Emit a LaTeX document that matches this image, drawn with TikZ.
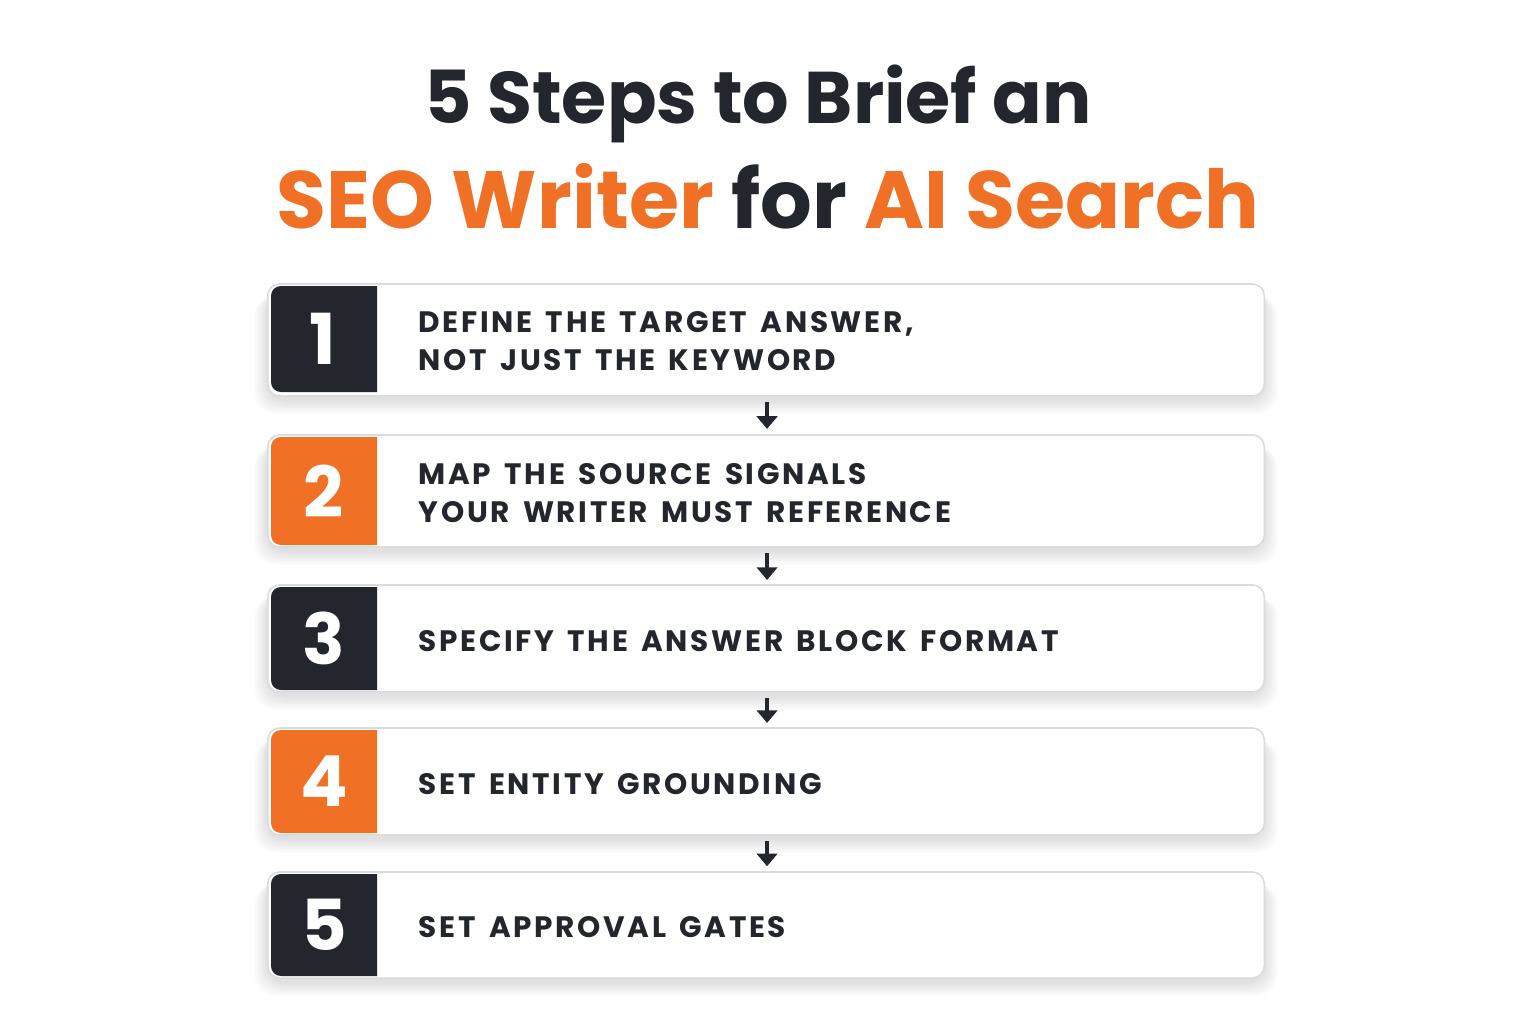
\documentclass[tikz,border=0pt]{standalone}
\usepackage{fontspec}
\setmainfont{Poppins}[BoldFont={Poppins Bold}]
\newfontfamily\stepfont{Poppins}[BoldFont={Poppins Bold},LetterSpace=9,WordSpace=1.5]
\usetikzlibrary{arrows.meta}
\definecolor{ink}{HTML}{24262D}
\definecolor{accent}{HTML}{F07026}
\definecolor{edge}{HTML}{DADBDE}
\tikzset{
  card/.style={draw=edge, line width=0.45pt, fill=white, rounded corners=3.4pt,
    minimum width=9.96cm, minimum height=#1, inner sep=0pt},
  steptext/.style={anchor=west, text=ink, font=\stepfont\bfseries\fontsize{8.4}{10.6}\selectfont, align=left, inner sep=0pt},
  numtext/.style={text=white, font=\bfseries\fontsize{20}{24}\selectfont, inner sep=0pt},
  arr/.style={draw=ink, line width=0.9pt, -{Triangle[width=5.8pt,length=3.6pt]}},
  shadowlayer/.style={fill=black, opacity=0.01, rounded corners=6pt}
}
\begin{document}
\begin{tikzpicture}[x=0.01cm, y=-0.01cm]
\useasboundingbox (0,0) rectangle (1536,1024);
\fill[white] (0,0) rectangle (1536,1024);

% title
\node[text=ink, font=\bfseries\fontsize{20.8}{26}\selectfont, inner sep=0pt] (t1) at (758,104) {5 Steps to Brief an};
\node[font=\bfseries\fontsize{23.1}{28}\selectfont, inner sep=0pt] (t2) at (768,196) {\textcolor{accent}{SEO Writer} \textcolor{ink}{for} \textcolor{accent}{AI Search}};

% shadows
\foreach \ya/\yb in {284/396, 435/547, 585/692, 728/835, 872/978}{
  \foreach \s in {2,4,...,20}{
    \fill[shadowlayer] (268-\s*0.7,\ya+6+\s*0.3) rectangle (1264+\s*0.7,\yb+4+\s*0.7);
  }
}

% cards
\node[card=1.12cm] (c1) at (766,340) {};
\node[card=1.12cm] (c2) at (766,491) {};
\node[card=1.07cm] (c3) at (766,638.5) {};
\node[card=1.07cm] (c4) at (766,781.5) {};
\node[card=1.06cm] (c5) at (766,925) {};

% badges
\fill[ink]    (377,286) [rounded corners=2.8pt] -- (271,286) -- (271,392) [sharp corners] -- (377,392) -- cycle;
\fill[accent] (377,437) [rounded corners=2.8pt] -- (271,437) -- (271,545) [sharp corners] -- (377,545) -- cycle;
\fill[ink]    (377,587) [rounded corners=2.8pt] -- (271,587) -- (271,690) [sharp corners] -- (377,690) -- cycle;
\fill[accent] (377,730) [rounded corners=2.8pt] -- (271,730) -- (271,833) [sharp corners] -- (377,833) -- cycle;
\fill[ink]    (377,874) [rounded corners=2.8pt] -- (271,874) -- (271,976) [sharp corners] -- (377,976) -- cycle;

% numbers
\node[numtext] (n1) at (323,339) {1};
\node[numtext] (n2) at (324,491) {2};
\node[numtext] (n3) at (324,638) {3};
\node[numtext] (n4) at (324,781) {4};
\node[numtext] (n5) at (324,925) {5};

% step texts
\node[steptext] (s1) at (418,341) {DEFINE THE TARGET ANSWER,\\NOT JUST THE KEYWORD};
\node[steptext] (s2) at (418,493) {MAP THE SOURCE SIGNALS\\YOUR WRITER MUST REFERENCE};
\node[steptext] (s3) at (418,641) {SPECIFY THE ANSWER BLOCK FORMAT};
\node[steptext] (s4) at (418,784) {SET ENTITY GROUNDING};
\node[steptext] (s5) at (418,927) {SET APPROVAL GATES};

% arrows
\draw[arr, shorten <=1.4pt, shorten >=1.5pt] ([xshift=0.3pt]c1.south) -- ([xshift=0.3pt]c2.north);
\draw[arr, shorten <=1.4pt, shorten >=1.2pt] ([xshift=0.3pt]c2.south) -- ([xshift=0.3pt]c3.north);
\draw[arr, shorten <=1.4pt, shorten >=1.2pt] ([xshift=0.3pt]c3.south) -- ([xshift=0.3pt]c4.north);
\draw[arr, shorten <=1.4pt, shorten >=1.4pt] ([xshift=0.3pt]c4.south) -- ([xshift=0.3pt]c5.north);
\end{tikzpicture}
\end{document}
